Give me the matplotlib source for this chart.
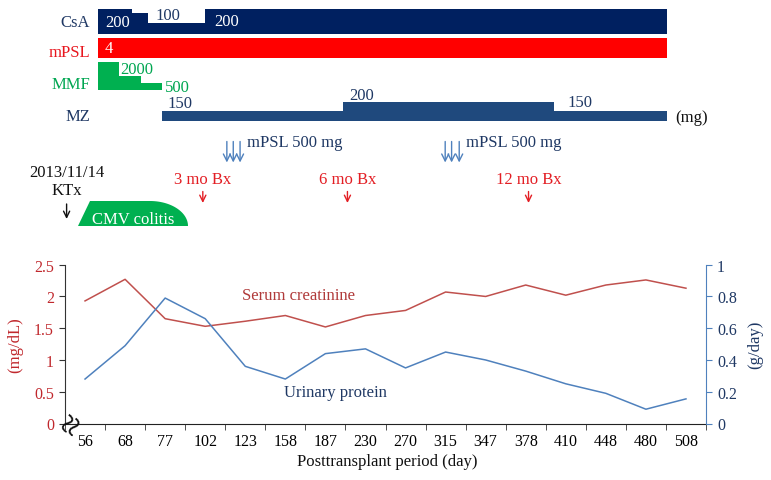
import numpy as np
import matplotlib
matplotlib.use('Agg')
import matplotlib.pyplot as plt
from matplotlib.patches import Polygon
from matplotlib.ticker import FuncFormatter

plt.rcParams['font.family'] = ['Liberation Serif', 'DejaVu Serif']

# ---------------- data ----------------
days = ['56', '68', '77', '102', '123', '158', '187', '230', '270', '315',
        '347', '378', '410', '448', '480', '508']
creatinine = [1.93, 2.27, 1.65, 1.53, 1.61, 1.70, 1.52, 1.70, 1.78, 2.07,
              2.00, 2.18, 2.02, 2.18, 2.26, 2.13]
protein = [0.28, 0.49, 0.79, 0.66, 0.36, 0.28, 0.44, 0.47, 0.35, 0.45,
           0.40, 0.33, 0.25, 0.19, 0.09, 0.155]

# drug regimens on the category timeline (index units), dose in mg
csa_start = [0.33, 1.16, 1.56, 2.99]
csa_end = [1.16, 1.56, 2.99, 14.53]
csa_dose = [200, 175, 100, 200]
mpsl_start = [0.33]
mpsl_end = [14.53]
mpsl_dose = [4]
mmf_start = [0.33, 0.85, 1.40]
mmf_end = [0.85, 1.40, 1.93]
mmf_dose = [2000, 1000, 500]
mz_start = [1.93, 6.45, 11.71]
mz_end = [6.45, 11.71, 14.53]
mz_dose = [150, 200, 150]

# events on the timeline (index units)
pulse1 = [3.54, 3.70, 3.87]
pulse2 = [8.99, 9.15, 9.34]
bx_pos = [2.94, 6.55, 11.07]
bx_labels = ['3 mo Bx', '6 mo Bx', '12 mo Bx']
ktx_pos = -0.46

# ---------------- figure ----------------
W, H = 771, 481
fig = plt.figure(figsize=(W / 100, H / 100), dpi=100)

AX_L, AX_R, AX_B, AX_T = 65, 706, 424.5, 265.7
ax = fig.add_axes([AX_L / W, (H - AX_B) / H, (AX_R - AX_L) / W, (AX_B - AX_T) / H])
ax2 = ax.twinx()

x = np.arange(len(days))
ax.plot(x, creatinine, color='#c0504d', lw=1.1)
ax2.plot(x, protein, color='#4f81bd', lw=1.1)
ax.set_xlim(-0.5, len(days) - 0.5)
ax.set_ylim(0, 2.5)
ax2.set_ylim(0, 1)

red_txt = '#c0282d'
navy_txt = '#1f3864'
fmt = FuncFormatter(lambda v, p: '%g' % v)

ax.set_xticks(x)
ax.set_xticklabels(days, fontsize=11.5)
ax.tick_params(axis='x', which='major', length=0, pad=7)
ax.set_xticks(np.arange(-0.5, len(days), 1), minor=True)
ax.tick_params(axis='x', which='minor', length=4, direction='out', color='#333333')

ax.set_yticks(np.arange(0, 2.51, 0.5))
ax.yaxis.set_major_formatter(fmt)
ax.tick_params(axis='y', length=4, direction='out', labelsize=11.5,
               labelcolor=red_txt, color='#333333', pad=4)
ax2.set_yticks(np.arange(0, 1.01, 0.2))
ax2.yaxis.set_major_formatter(fmt)
ax2.tick_params(axis='y', length=4, direction='out', labelsize=11.5,
                labelcolor=navy_txt, color='#4f81bd', pad=4)

for s in ['top', 'right']:
    ax.spines[s].set_visible(False)
ax.spines['left'].set_color('#333333')
ax.spines['bottom'].set_color('#222222')
for s in ['top', 'left', 'bottom']:
    ax2.spines[s].set_visible(False)
ax2.spines['right'].set_color('#4f81bd')

# ---------------- overlay axes (timeline, pixel y) ----------------
px_per_idx = (AX_R - AX_L) / len(days)
tl = fig.add_axes([0, 0, 1, 1])
tl.set_xlim(-0.5 - AX_L / px_per_idx, len(days) - 0.5 + (W - AX_R) / px_per_idx)
tl.set_ylim(H, 0)
tl.axis('off')
tl.patch.set_alpha(0)


def px(p):
    return (p - AX_L) / px_per_idx - 0.5


def lane(starts, ends, doses, base, k, off, color):
    st = np.array(starts)
    en = np.array(ends)
    d = np.array(doses, dtype=float)
    h = off + k * d
    tl.bar(st, -h, width=en - st, bottom=base, align='edge', color=color,
           linewidth=0)


lane(csa_start, csa_end, csa_dose, 35.3, 0.14, -2.7, '#002060')
lane(mpsl_start, mpsl_end, mpsl_dose, 58.7, 0.0, 19.4, '#ff0000')
lane(mmf_start, mmf_end, mmf_dose, 91.0, 0.014, 0.0, '#00b050')
lane(mz_start, mz_end, mz_dose, 121.7, 0.167, -15.0, '#1f497d')

fs = 12
# drug names
tl.text(px(90), 23.3, 'CsA', ha='right', va='center', fontsize=fs, color=navy_txt)
tl.text(px(90), 53, 'mPSL', ha='right', va='center', fontsize=fs, color='#e8161e')
tl.text(px(90), 85, 'MMF', ha='right', va='center', fontsize=fs, color='#00a651')
tl.text(px(90), 116.7, 'MZ', ha='right', va='center', fontsize=fs, color=navy_txt)

# dose labels
tl.text(px(105), 22.7, '200', ha='left', va='center', fontsize=fs, color='white')
tl.text(px(155), 16.5, '100', ha='left', va='center', fontsize=fs, color=navy_txt)
tl.text(px(214), 21.7, '200', ha='left', va='center', fontsize=fs, color='white')
tl.text(px(105), 49, '4', ha='left', va='center', fontsize=fs, color='white')
tl.text(px(120), 69.5, '2000', ha='left', va='center', fontsize=fs, color='#00a651')
tl.text(px(165), 87.8, '500', ha='left', va='center', fontsize=fs, color='#00a651')
tl.text(px(167), 104, '150', ha='left', va='center', fontsize=fs, color=navy_txt)
tl.text(px(349), 96.5, '200', ha='left', va='center', fontsize=fs, color=navy_txt)
tl.text(px(567), 103.3, '150', ha='left', va='center', fontsize=fs, color=navy_txt)
tl.text(px(675), 118, '(mg)', ha='left', va='center', fontsize=fs, color='#111111')

# mPSL pulses
for grp in (pulse1, pulse2):
    for xi in grp:
        tl.annotate('', xy=(xi, 163.5), xytext=(xi, 142.5),
                    arrowprops=dict(arrowstyle='->,head_length=0.5,head_width=0.25',
                                    color='#4f81bd', lw=1.0, shrinkA=0, shrinkB=0))
    tl.text(grp[-1] + 0.17, 143.3, 'mPSL 500 mg', ha='left', va='center',
            fontsize=fs, color=navy_txt)

# biopsies
for xi, lab in zip(bx_pos, bx_labels):
    tl.text(xi, 180, lab, ha='center', va='center', fontsize=fs, color='#e31e24')
    tl.annotate('', xy=(xi, 204), xytext=(xi, 192.5),
                arrowprops=dict(arrowstyle='->,head_length=0.45,head_width=0.22',
                                color='#e31e24', lw=1.0, shrinkA=0, shrinkB=0))

# KTx
tl.text(ktx_pos, 172.7, '2013/11/14', ha='center', va='center', fontsize=fs, color='#111111')
tl.text(ktx_pos, 191, 'KTx', ha='center', va='center', fontsize=fs, color='#111111')
tl.annotate('', xy=(ktx_pos, 220), xytext=(ktx_pos, 205),
            arrowprops=dict(arrowstyle='->,head_length=0.45,head_width=0.22',
                            color='#111111', lw=1.0, shrinkA=0, shrinkB=0))

# CMV colitis shape
t = np.linspace(np.pi / 2, 0, 30)
cx, cy, rx, ry = 150, 227, 38, 25
pts = [(px(78), 227), (px(90), 202)] + [(px(cx + rx * np.cos(a)), cy - ry * np.sin(a)) for a in t]
tl.add_patch(Polygon(pts, closed=True, facecolor='#00b050', edgecolor='none'))
tl.text(px(133), 220.5, 'CMV colitis', ha='center', va='center', fontsize=fs, color='white')

# axis break mark
tl.text(px(74), 425, '\u2248', ha='center', va='center', fontsize=27, rotation=60,
        color='#111111')

# series labels
tl.text(px(298), 296, 'Serum creatinine', ha='center', va='center', fontsize=fs, color='#b03a3a')
tl.text(px(335), 392.7, 'Urinary protein', ha='center', va='center', fontsize=fs, color=navy_txt)

# axis titles
tl.text(px(15), 345, '(mg/dL)', ha='center', va='center', rotation=90, fontsize=fs, color=red_txt)
tl.text(px(755), 345, '(g/day)', ha='center', va='center', rotation=90, fontsize=fs, color=navy_txt)
tl.text(px(387.5), 461.7, 'Posttransplant period (day)', ha='center', va='center',
        fontsize=fs, color='#111111')

fig.savefig('out.png', dpi=100)
